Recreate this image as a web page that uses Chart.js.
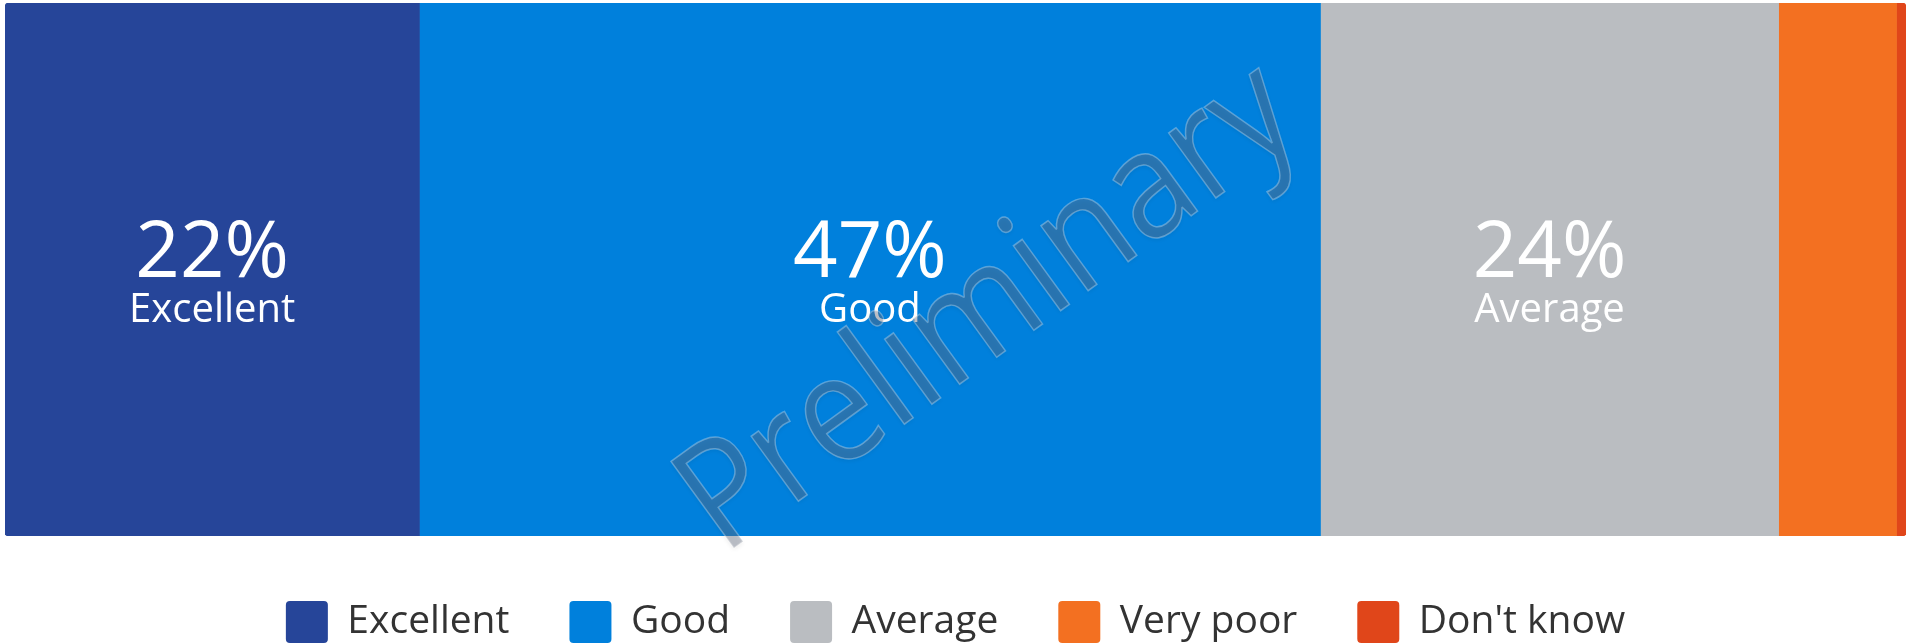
<!DOCTYPE html>
<html>
<head>
<meta charset="utf-8">
<script src="https://cdn.jsdelivr.net/npm/chart.js@4"></script>
<style>
  html, body { margin: 0; padding: 0; background: #fff; overflow: hidden; }
  #wrap { position: relative; width: 1907px; height: 653px; }
</style>
</head>
<body>
<div id="wrap"><canvas id="chart"></canvas></div>
<script>
const categories = ['Excellent', 'Good', 'Average', 'Very poor', "Don't know"];
const values = [21.8, 47.4, 24.1, 6.2, 0.5];
const colors = ['#264599', '#0080DC', '#BABDC1', '#F37021', '#E0461A'];
const watermark = 'Preliminary';

const FONT = '"Open Sans", "Noto Sans", sans-serif';

// percentage + name written in the middle of the wide segments
const barLabels = {
  id: 'barLabels',
  afterDatasetsDraw(chart) {
    const ctx = chart.ctx;
    chart.data.datasets.forEach((ds, i) => {
      const v = ds.data[0];
      if (v < 10) return;
      const bar = chart.getDatasetMeta(i).data[0];
      const cx = (bar.x + bar.base) / 2;
      const cy = bar.y;
      ctx.save();
      ctx.fillStyle = '#fff';
      ctx.textAlign = 'center';
      ctx.textBaseline = 'alphabetic';
      ctx.font = '78px ' + FONT;
      ctx.fillText(Math.round(v) + '%', cx, cy + 7);
      ctx.font = '40px ' + FONT;
      ctx.fillText(ds.label, cx, cy + 52);
      ctx.restore();
    });
  }
};

const stamp = {
  id: 'stamp',
  afterDraw(chart) {
    const ctx = chart.ctx;
    const a = chart.chartArea;
    ctx.save();
    ctx.translate((a.left + a.right) / 2 + 34, (a.top + a.bottom) / 2 + 40);
    ctx.rotate(-36 * Math.PI / 180);
    ctx.scale(0.9, 1);
    ctx.font = '150px ' + FONT;
    ctx.textAlign = 'center';
    ctx.textBaseline = 'middle';
    ctx.shadowColor = 'rgba(0,0,0,0.18)';
    ctx.shadowBlur = 4;
    ctx.shadowOffsetY = 2;
    ctx.fillStyle = 'rgba(100,110,130,0.4)';
    ctx.fillText(watermark, 0, 0);
    ctx.shadowColor = 'transparent';
    ctx.lineWidth = 1.5;
    ctx.strokeStyle = 'rgba(255,255,255,0.3)';
    ctx.strokeText(watermark, 0, 0);
    ctx.restore();
  }
};

const last = categories.length - 1;
const datasets = categories.map((name, i) => ({
  label: name,
  data: [values[i]],
  backgroundColor: colors[i],
  borderWidth: 0,
  borderSkipped: false,
  borderRadius: i === 0 ? {topLeft: 4, bottomLeft: 4, topRight: 0, bottomRight: 0}
    : i === last ? {topLeft: 0, bottomLeft: 0, topRight: 4, bottomRight: 4}
    : 0,
  barPercentage: 1,
  categoryPercentage: 1
}));

new Chart(document.getElementById('chart'), {
  type: 'bar',
  data: { labels: [''], datasets: datasets },
  options: {
    indexAxis: 'y',
    responsive: true,
    maintainAspectRatio: false,
    animation: false,
    layout: { padding: { top: 3, left: 5, right: 1, bottom: 0 } },
    scales: {
      x: { stacked: true, min: 0, max: 100, display: false },
      y: { stacked: true, display: false }
    },
    plugins: {
      tooltip: { enabled: false },
      legend: {
        position: 'bottom',
        // empty title only adds a few px of gap above the items
        title: { display: true, text: '', padding: 0, font: { size: 5, lineHeight: 1 } },
        labels: {
          boxWidth: 42,
          boxHeight: 42,
          padding: 60,
          useBorderRadius: true,
          borderRadius: 4,
          color: '#333',
          font: { family: FONT, size: 39 }
        }
      }
    }
  },
  plugins: [barLabels, stamp]
});
</script>
</body>
</html>
